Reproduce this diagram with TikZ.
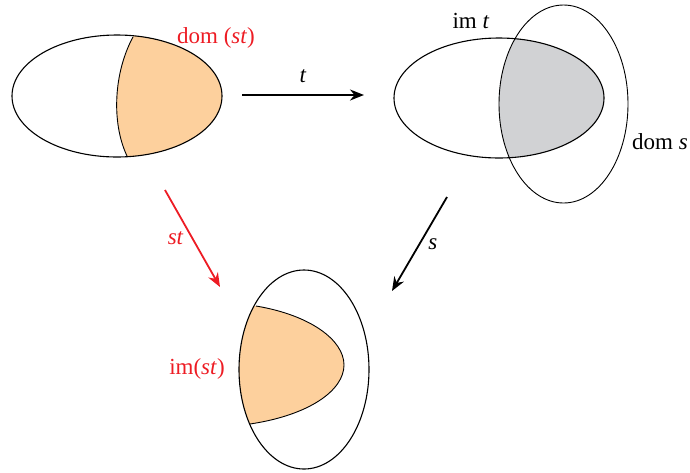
\documentclass[tikz,border=0pt]{standalone}
\usepackage{fontspec}
\setmainfont{Liberation Serif}
\usetikzlibrary{arrows.meta}
\definecolor{peach}{HTML}{FDD09D}
\definecolor{lightgrey}{HTML}{D1D2D4}
\definecolor{mapred}{HTML}{ED1C24}
\tikzset{
  setline/.style={draw=black, line width=1.1pt},
  maparrow/.style={->, line width=1.8pt},
  maplabel/.style={font=\fontsize{23}{26}\selectfont, inner sep=0pt}
}
\begin{document}
\begin{tikzpicture}[x=1pt, y=-1pt, >={Stealth[length=14pt,width=11pt]}]
\useasboundingbox (0,0) rectangle (690,472);
% dom t with dom(st)
\begin{scope}
\clip (117,96) ellipse [x radius=105, y radius=61];
\fill[peach] (133,30) -- (133,37) .. controls (114,72) and (111,122) .. (127,156) -- (127,170) -- (240,170) -- (240,30) -- cycle;
\end{scope}
\draw[line width=0.9pt] (133,37) .. controls (114,72) and (111,122) .. (127,156);
\draw[setline] (117,96) ellipse [x radius=105, y radius=61];
% im t and dom s
\begin{scope}
\clip (499,98) ellipse [x radius=105, y radius=60];
\fill[lightgrey] (563.5,104) ellipse [x radius=64.5, y radius=99];
\end{scope}
\draw[setline] (499,98) ellipse [x radius=105, y radius=60];
\draw[line width=0.9pt] (563.5,104) ellipse [x radius=64.5, y radius=99];
% im(st)
\begin{scope}
\clip (304,369.5) ellipse [x radius=65, y radius=99.5];
\fill[peach] (256,306) .. controls (310,315) and (344,340) .. (344,365) .. controls (344,390) and (310,415) .. (250,424) -- (200,424) -- (200,306) -- cycle;
\end{scope}
\draw[line width=0.9pt] (256,306) .. controls (310,315) and (344,340) .. (344,365) .. controls (344,390) and (310,415) .. (250,424);
\draw[setline] (304,369.5) ellipse [x radius=65, y radius=99.5];
% labels
\node[maplabel, text=mapred] (domst) at (216,38) {dom (\textit{st})};
\node[maplabel] (imt) at (471,21) {im \textit{t}};
\node[maplabel] (doms) at (660,142) {dom \textit{s}};
\node[maplabel, text=mapred] (imst) at (197,369) {im(\textit{st})};
% arrows
\coordinate (tfrom) at (242,95);
\coordinate (tto) at (364,95);
\coordinate (sfrom) at (447,197);
\coordinate (sto) at (392,291);
\coordinate (stfrom) at (165,190);
\coordinate (stto) at (220,287);
\draw[maparrow] (tfrom) -- node[maplabel, above=11pt] (tlab) {\textit{t}} (tto);
\draw[maparrow] (sfrom) -- node[maplabel, right=8pt] (slab) {\textit{s}} (sto);
\draw[maparrow, mapred] (stfrom) -- node[maplabel, left=8pt] (stlab) {\textit{st}} (stto);
\end{tikzpicture}
\end{document}
